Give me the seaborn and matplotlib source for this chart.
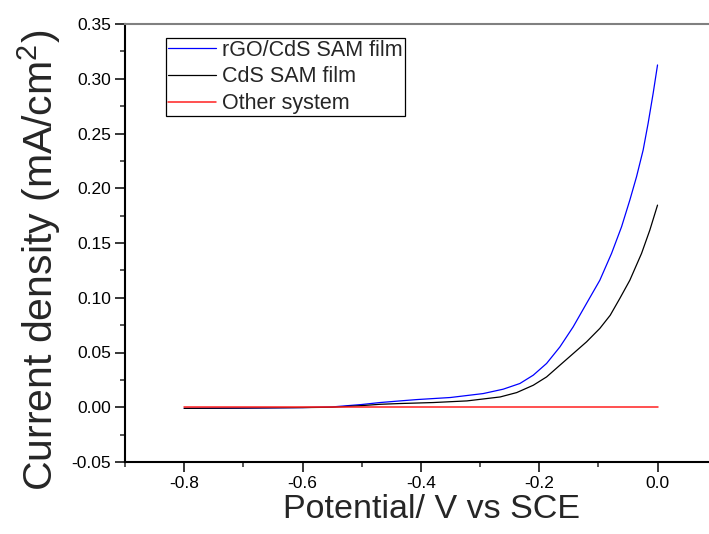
import numpy as np
import pandas as pd
import matplotlib
matplotlib.use("Agg")
import matplotlib.pyplot as plt
import seaborn as sns
from matplotlib.ticker import MultipleLocator

# ---- data ----
blue_x = [-0.80, -0.70, -0.60, -0.55, -0.50, -0.469, -0.435, -0.407, -0.35, -0.2946,
          -0.2608, -0.2326, -0.21, -0.1875, -0.165, -0.1426, -0.12, -0.0975, -0.0777,
          -0.0608, -0.0468, -0.0355, -0.0243, -0.0159, -0.0074, 0.0]
blue_y = [-0.0010, -0.0007, -0.0003, 0.0003, 0.0025, 0.0043, 0.0058, 0.0070, 0.0089, 0.0125,
          0.0165, 0.0217, 0.0293, 0.0400, 0.0551, 0.0734, 0.0948, 0.1160, 0.1405,
          0.1648, 0.1892, 0.2105, 0.2349, 0.2593, 0.2867, 0.3126]

black_x = [-0.80, -0.70, -0.60, -0.55, -0.50, -0.469, -0.435, -0.379, -0.322, -0.266,
           -0.238, -0.21, -0.1875, -0.165, -0.1426, -0.12, -0.0975, -0.080, -0.0637,
           -0.0468, -0.027, -0.013, 0.0]
black_y = [-0.0010, -0.0007, -0.0003, 0.0000, 0.0015, 0.0027, 0.0034, 0.0043, 0.0058, 0.0094,
           0.0134, 0.0201, 0.0277, 0.0384, 0.0490, 0.0597, 0.0720, 0.0840, 0.0994,
           0.1160, 0.1405, 0.1618, 0.1846]

red_x = [-0.80, -0.60, -0.40, -0.20, 0.0]
red_y = [0.0, 0.0, 0.0, 0.0, 0.0]

labels = ["rGO/CdS SAM film", "CdS SAM film", "Other system"]
colors = ["#0000ff", "#000000", "#ff2020"]

x_ticks = [-0.8, -0.6, -0.4, -0.2, 0.0]
x_ticklabels = ["-0.8", "-0.6", "-0.4", "-0.2", "0.0"]
y_ticks = [-0.05, 0.00, 0.05, 0.10, 0.15, 0.20, 0.25, 0.30, 0.35]
y_ticklabels = ["-0.05", "0.00", "0.05", "0.10", "0.15", "0.20", "0.25", "0.30", "0.35"]

sns.set_style("ticks")
plt.rcParams["font.family"] = ["Liberation Sans", "DejaVu Sans"]
plt.rcParams["mathtext.fontset"] = "custom"
plt.rcParams["mathtext.rm"] = "Liberation Sans"
plt.rcParams["mathtext.it"] = "Liberation Sans:italic"

fig = plt.figure(figsize=(7.09, 5.34), dpi=100)
W, H = 709, 534
ax = fig.add_axes([125 / W, (H - 462) / H, 591.7 / W, 438 / H])

series = [(blue_x, blue_y), (black_x, black_y), (red_x, red_y)]
widths = [0.9, 0.9, 1.1]
for (xs, ys), lab, col, lw in zip(series, labels, colors, widths):
    df = pd.DataFrame({"x": xs, "y": ys})
    sns.lineplot(data=df, x="x", y="y", ax=ax, color=col, lw=lw, label=lab,
                 sort=False, estimator=None)

ax.set_xlim(-0.9, 0.1)
ax.set_ylim(-0.05, 0.35)
ax.set_xticks(x_ticks)
ax.set_xticklabels(x_ticklabels)
ax.set_yticks(y_ticks)
ax.set_yticklabels(y_ticklabels)
ax.xaxis.set_minor_locator(MultipleLocator(0.1))
ax.yaxis.set_minor_locator(MultipleLocator(0.025))

ax.tick_params(axis="both", which="major", direction="out", length=7, width=1.1,
               labelsize=12.5, colors="black", pad=3)
ax.tick_params(axis="both", which="minor", direction="out", length=3.5, width=1.1)

for side in ["left", "bottom"]:
    ax.spines[side].set_linewidth(1.5)
    ax.spines[side].set_color("black")
ax.spines["top"].set_linewidth(1.5)
ax.spines["top"].set_color("0.5")
ax.spines["right"].set_visible(False)

ax.set_xlabel("Potential/ V vs SCE", fontsize=24.5)
ax.set_ylabel("Current density (mA/cm$^2$)", fontsize=29.5)
ax.xaxis.set_label_coords((431.7 - 125) / 591.7, -0.074)
ax.yaxis.set_label_coords(-0.104, (462 - 260) / 438)

leg = ax.legend(loc="upper left", bbox_to_anchor=((166 - 125) / 591.7, (462 - 37.5) / 438),
                borderaxespad=0, fontsize=15.5, frameon=True, fancybox=False,
                framealpha=1, edgecolor="black", handlelength=2.2, handletextpad=0.3,
                labelspacing=0.27, borderpad=0.1)
leg.get_frame().set_linewidth(0.9)

fig.savefig("out.png", dpi=100)
